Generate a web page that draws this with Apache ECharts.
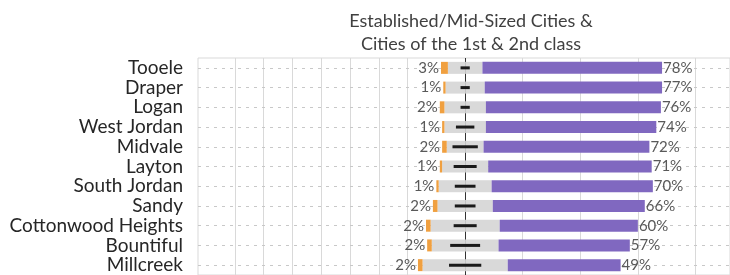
<!DOCTYPE html>
<html>
<head>
<meta charset="utf-8">
<script src="https://cdn.jsdelivr.net/npm/echarts@6/dist/echarts.min.js"></script>
<style>
  html, body { margin: 0; padding: 0; background: #fff; }
  #chart { width: 730px; height: 275px; }
</style>
</head>
<body>
<div id="chart"></div>
<script>
// cities, top to bottom
var cities = ['Tooele', 'Draper', 'Logan', 'West Jordan', 'Midvale', 'Layton',
  'South Jordan', 'Sandy', 'Cottonwood Heights', 'Bountiful', 'Millcreek'];

// shares in %
var negative = [3, 1, 2, 1, 2, 1, 1, 2, 2, 2, 2];
var neutral = [15, 17, 18, 18, 16, 20, 23, 24, 30, 29, 37];
var positive = [78, 77, 76, 74, 72, 71, 70, 66, 60, 57, 49];
var dontKnow = [4, 4, 4, 8, 11, 10, 9, 9, 10, 13, 14];

// vertical grid lines (%)
var gridTicks = [-100, -87.5, -75, -62.5, -50, -37.5, -25, 25, 50, 75, 100];

var font = 'Lato, "Open Sans", sans-serif';
var chart = echarts.init(document.getElementById('chart'));

var guideLines = [];
gridTicks.forEach(function (t) {
  guideLines.push({ xAxis: t, lineStyle: { color: '#d9d9d9', type: 'solid', width: 1 } });
});
cities.forEach(function (c) {
  guideLines.push({ yAxis: c, lineStyle: { color: '#c8c8c8', type: [3, 5], width: 1 } });
});
guideLines.push({ xAxis: 0, lineStyle: { color: '#333', type: 'solid', width: 1 } });

var half = function (arr, sign) {
  return arr.map(function (v) { return sign * v / 2; });
};

var option = {
  animation: false,
  title: {
    text: 'Established/Mid-Sized Cities &\nCities of the 1st & 2nd class',
    left: 466,
    textAlign: 'center',
    top: 5,
    textStyle: {
      fontFamily: font,
      fontSize: 18,
      fontWeight: 'normal',
      color: '#404040',
      lineHeight: 23
    }
  },
  grid: {
    left: 198,
    right: -2,
    top: 58,
    bottom: 0,
    show: true,
    borderColor: '#d9d9d9',
    borderWidth: 1
  },
  xAxis: {
    type: 'value',
    min: -116,
    max: 115,
    show: false
  },
  yAxis: {
    type: 'category',
    data: cities,
    inverse: true,
    axisLine: { show: false },
    axisTick: { show: false },
    splitLine: { show: false },
    axisLabel: {
      interval: 0,
      fontFamily: font,
      fontSize: 19,
      color: '#262626',
      margin: 15
    }
  },
  series: [
    {
      name: 'Neutral (left)',
      type: 'bar',
      stack: 'likert',
      barWidth: 12,
      z: 2,
      itemStyle: { color: '#d9d9d9' },
      data: half(neutral, -1),
      markLine: {
        silent: true,
        z: 1,
        symbol: ['none', 'none'],
        label: { show: false },
        data: guideLines
      }
    },
    {
      name: 'Negative',
      type: 'bar',
      stack: 'likert',
      barWidth: 12,
      z: 2,
      itemStyle: { color: '#f0a040' },
      data: negative.map(function (v) { return -v; }),
      label: {
        show: true,
        position: 'left',
        distance: 2,
        fontFamily: font,
        fontSize: 15,
        color: '#595959',
        formatter: function (p) { return Math.abs(p.value) + '%'; }
      }
    },
    {
      name: 'Neutral (right)',
      type: 'bar',
      stack: 'likert',
      barWidth: 12,
      z: 2,
      itemStyle: { color: '#d9d9d9' },
      data: half(neutral, 1)
    },
    {
      name: 'Positive',
      type: 'bar',
      stack: 'likert',
      barWidth: 12,
      z: 2,
      itemStyle: { color: '#8068c0' },
      data: positive,
      label: {
        show: true,
        position: 'right',
        distance: 1,
        fontFamily: font,
        fontSize: 15,
        color: '#595959',
        formatter: '{c}%'
      }
    },
    {
      name: "Don't know",
      type: 'custom',
      z: 3,
      encode: { x: 0, y: 1 },
      data: dontKnow.map(function (v, i) { return [v, cities[i]]; }),
      renderItem: function (params, api) {
        var d = api.value(0);
        var c = api.value(1);
        var p1 = api.coord([-d / 2, c]);
        var p2 = api.coord([d / 2, c]);
        return {
          type: 'rect',
          shape: { x: p1[0], y: p1[1] - 1.5, width: p2[0] - p1[0], height: 3 },
          style: { fill: '#1a1a1a' }
        };
      }
    }
  ]
};

chart.setOption(option);
</script>
</body>
</html>
